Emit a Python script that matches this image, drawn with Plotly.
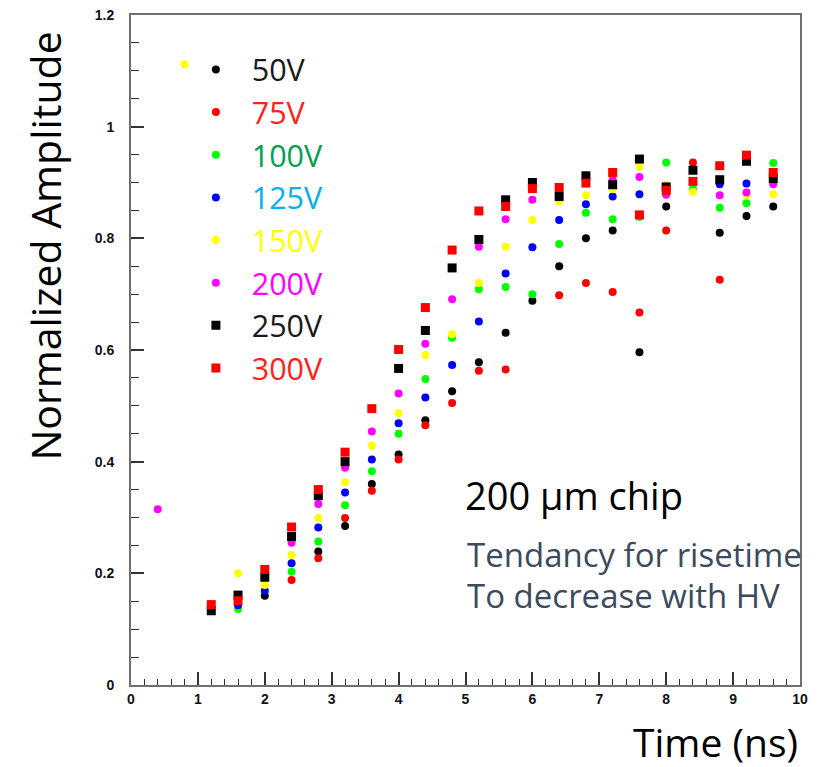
import plotly.graph_objects as go

# ---- data (time in ns, normalized amplitude) ----
t_50 = [2.0, 2.8, 3.2, 3.6, 4.0, 4.4, 4.8, 5.2, 5.6, 6.0, 6.4, 6.8, 7.2, 7.6, 8.0, 8.8, 9.2, 9.6]
a_50 = [0.160, 0.239, 0.285, 0.360, 0.413, 0.474, 0.526, 0.578, 0.631, 0.688, 0.750, 0.800, 0.814, 0.596, 0.857, 0.810, 0.840, 0.857]

t_75 = [2.4, 2.8, 3.2, 3.6, 4.0, 4.4, 4.8, 5.2, 5.6, 6.4, 6.8, 7.2, 7.6, 8.0, 8.4, 8.8]
a_75 = [0.188, 0.227, 0.299, 0.348, 0.404, 0.465, 0.505, 0.563, 0.565, 0.698, 0.720, 0.704, 0.667, 0.814, 0.936, 0.726]

t_100 = [1.6, 2.4, 2.8, 3.2, 3.6, 4.0, 4.4, 4.8, 5.2, 5.6, 6.0, 6.4, 6.8, 7.2, 7.6, 8.0, 8.4, 8.8, 9.2, 9.6]
a_100 = [0.136, 0.203, 0.257, 0.322, 0.383, 0.450, 0.548, 0.622, 0.709, 0.713, 0.700, 0.790, 0.846, 0.834, 0.838, 0.936, 0.889, 0.855, 0.863, 0.935]

t_125 = [1.6, 2.0, 2.4, 2.8, 3.2, 3.6, 4.0, 4.4, 4.8, 5.2, 5.6, 6.0, 6.4, 6.8, 7.2, 7.6, 8.8, 9.2]
a_125 = [0.143, 0.169, 0.218, 0.282, 0.345, 0.404, 0.469, 0.515, 0.573, 0.651, 0.737, 0.784, 0.833, 0.861, 0.875, 0.879, 0.897, 0.898]

t_150 = [0.8, 1.6, 2.0, 2.4, 2.8, 3.2, 3.6, 4.0, 4.4, 4.8, 5.2, 5.6, 6.0, 6.4, 6.8, 7.2, 7.6, 8.0, 8.4, 9.2, 9.6]
a_150 = [1.112, 0.200, 0.179, 0.233, 0.299, 0.363, 0.429, 0.487, 0.591, 0.628, 0.720, 0.785, 0.833, 0.866, 0.877, 0.888, 0.928, 0.896, 0.883, 0.877, 0.879]

t_200 = [0.4, 2.4, 2.8, 3.2, 3.6, 4.0, 4.4, 4.8, 5.2, 5.6, 6.0, 7.2, 7.6, 8.0, 8.8, 9.2, 9.6]
a_200 = [0.315, 0.255, 0.324, 0.389, 0.454, 0.522, 0.611, 0.691, 0.785, 0.834, 0.869, 0.905, 0.910, 0.878, 0.877, 0.882, 0.897]

t_250 = [1.2, 1.6, 2.0, 2.4, 2.8, 3.2, 4.0, 4.4, 4.8, 5.2, 5.6, 6.0, 6.4, 6.8, 7.2, 7.6, 8.0, 8.4, 8.8, 9.2, 9.6]
a_250 = [0.133, 0.161, 0.193, 0.266, 0.339, 0.400, 0.567, 0.635, 0.747, 0.798, 0.869, 0.900, 0.875, 0.912, 0.896, 0.942, 0.892, 0.922, 0.905, 0.938, 0.907]

t_300 = [1.2, 1.6, 2.0, 2.4, 2.8, 3.2, 3.6, 4.0, 4.4, 4.8, 5.2, 5.6, 6.0, 6.4, 6.8, 7.2, 7.6, 8.0, 8.4, 8.8, 9.2, 9.6]
a_300 = [0.144, 0.151, 0.207, 0.283, 0.350, 0.417, 0.495, 0.601, 0.676, 0.779, 0.849, 0.857, 0.889, 0.891, 0.899, 0.918, 0.842, 0.886, 0.902, 0.930, 0.949, 0.918]

labels = ["50V", "75V", "100V", "125V", "150V", "200V", "250V", "300V"]
xs = [t_50, t_75, t_100, t_125, t_150, t_200, t_250, t_300]
ys = [a_50, a_75, a_100, a_125, a_150, a_200, a_250, a_300]
marker_colors = ["#000000", "#FF0000", "#00FF00", "#0000FF", "#FFFF00", "#FF00FF", "#000000", "#FF0000"]
label_colors = ["#1A1A1A", "#FF2020", "#00A050", "#00B0F0", "#FFFF00", "#FF00FF", "#1A1A1A", "#FF2020"]
symbols = ["circle"] * 6 + ["square"] * 2
sizes = [8] * 6 + [9, 9]

fig = go.Figure()
for lab, x, y, mc, lc, sym, sz in zip(labels, xs, ys, marker_colors, label_colors, symbols, sizes):
    fig.add_trace(go.Scatter(
        x=x, y=y, mode="markers",
        name=f'<span style="color:{lc}">&nbsp;&nbsp;{lab}</span>',
        marker=dict(color=mc, symbol=sym, size=sz, line=dict(width=0)),
    ))

axis_line = "#707070"
tick_font = dict(family="Liberation Sans", size=14, color="#111", weight="bold")
fig.update_xaxes(
    range=[0, 10], dtick=1, tick0=0, ticks="inside", ticklen=13, tickwidth=1.5, tickcolor="#333",
    minor=dict(dtick=0.2, ticks="inside", ticklen=6, tickwidth=1.2, tickcolor="#333"),
    showline=True, linecolor=axis_line, linewidth=2, mirror=True, showgrid=False, zeroline=False,
    tickfont=tick_font, automargin=False, ticklabeloverflow="allow",
)
fig.update_yaxes(
    range=[0, 1.2], dtick=0.2, tick0=0, ticks="inside", ticklen=13, tickwidth=1.5, tickcolor="#333",
    minor=dict(dtick=0.05, ticks="inside", ticklen=8, tickwidth=1.2, tickcolor="#333"),
    showline=True, linecolor=axis_line, linewidth=2, mirror=True, showgrid=False, zeroline=False,
    tickfont=tick_font, ticklabelstandoff=12, automargin=False, ticklabeloverflow="allow",
)

txt_font = "Open Sans"
fig.update_layout(
    width=820, height=759,
    margin=dict(l=123, r=28, t=7, b=82),
    plot_bgcolor="white", paper_bgcolor="white",
    showlegend=True,
    legend=dict(x=0.097, y=0.958, xanchor="left", yanchor="top", bgcolor="rgba(0,0,0,0)",
                font=dict(family=txt_font, size=30.5, color="#1A1A1A"), itemsizing="trace"),
    annotations=[
        dict(text="200 µm chip", xref="paper", yref="paper", x=0.496, y=0.284,
             xanchor="left", yanchor="middle", showarrow=False,
             font=dict(family=txt_font, size=38, color="#000000")),
        dict(text="Tendancy for risetime", xref="paper", yref="paper", x=0.499, y=0.195,
             xanchor="left", yanchor="middle", showarrow=False,
             font=dict(family=txt_font, size=33, color="#3B4A5E")),
        dict(text="To decrease with HV", xref="paper", yref="paper", x=0.499, y=0.133,
             xanchor="left", yanchor="middle", showarrow=False,
             font=dict(family=txt_font, size=33, color="#3B4A5E")),
        dict(text="Normalized Amplitude", xref="paper", yref="paper", x=-0.128, y=0.655,
             xanchor="center", yanchor="middle", textangle=-90, showarrow=False,
             font=dict(family=txt_font, size=41, color="#000000")),
        dict(text="Time (ns)", xref="paper", yref="paper", x=1.0, y=-0.084,
             xanchor="right", yanchor="middle", showarrow=False,
             font=dict(family=txt_font, size=39, color="#000000")),
    ],
)

fig.write_html("out.html")
